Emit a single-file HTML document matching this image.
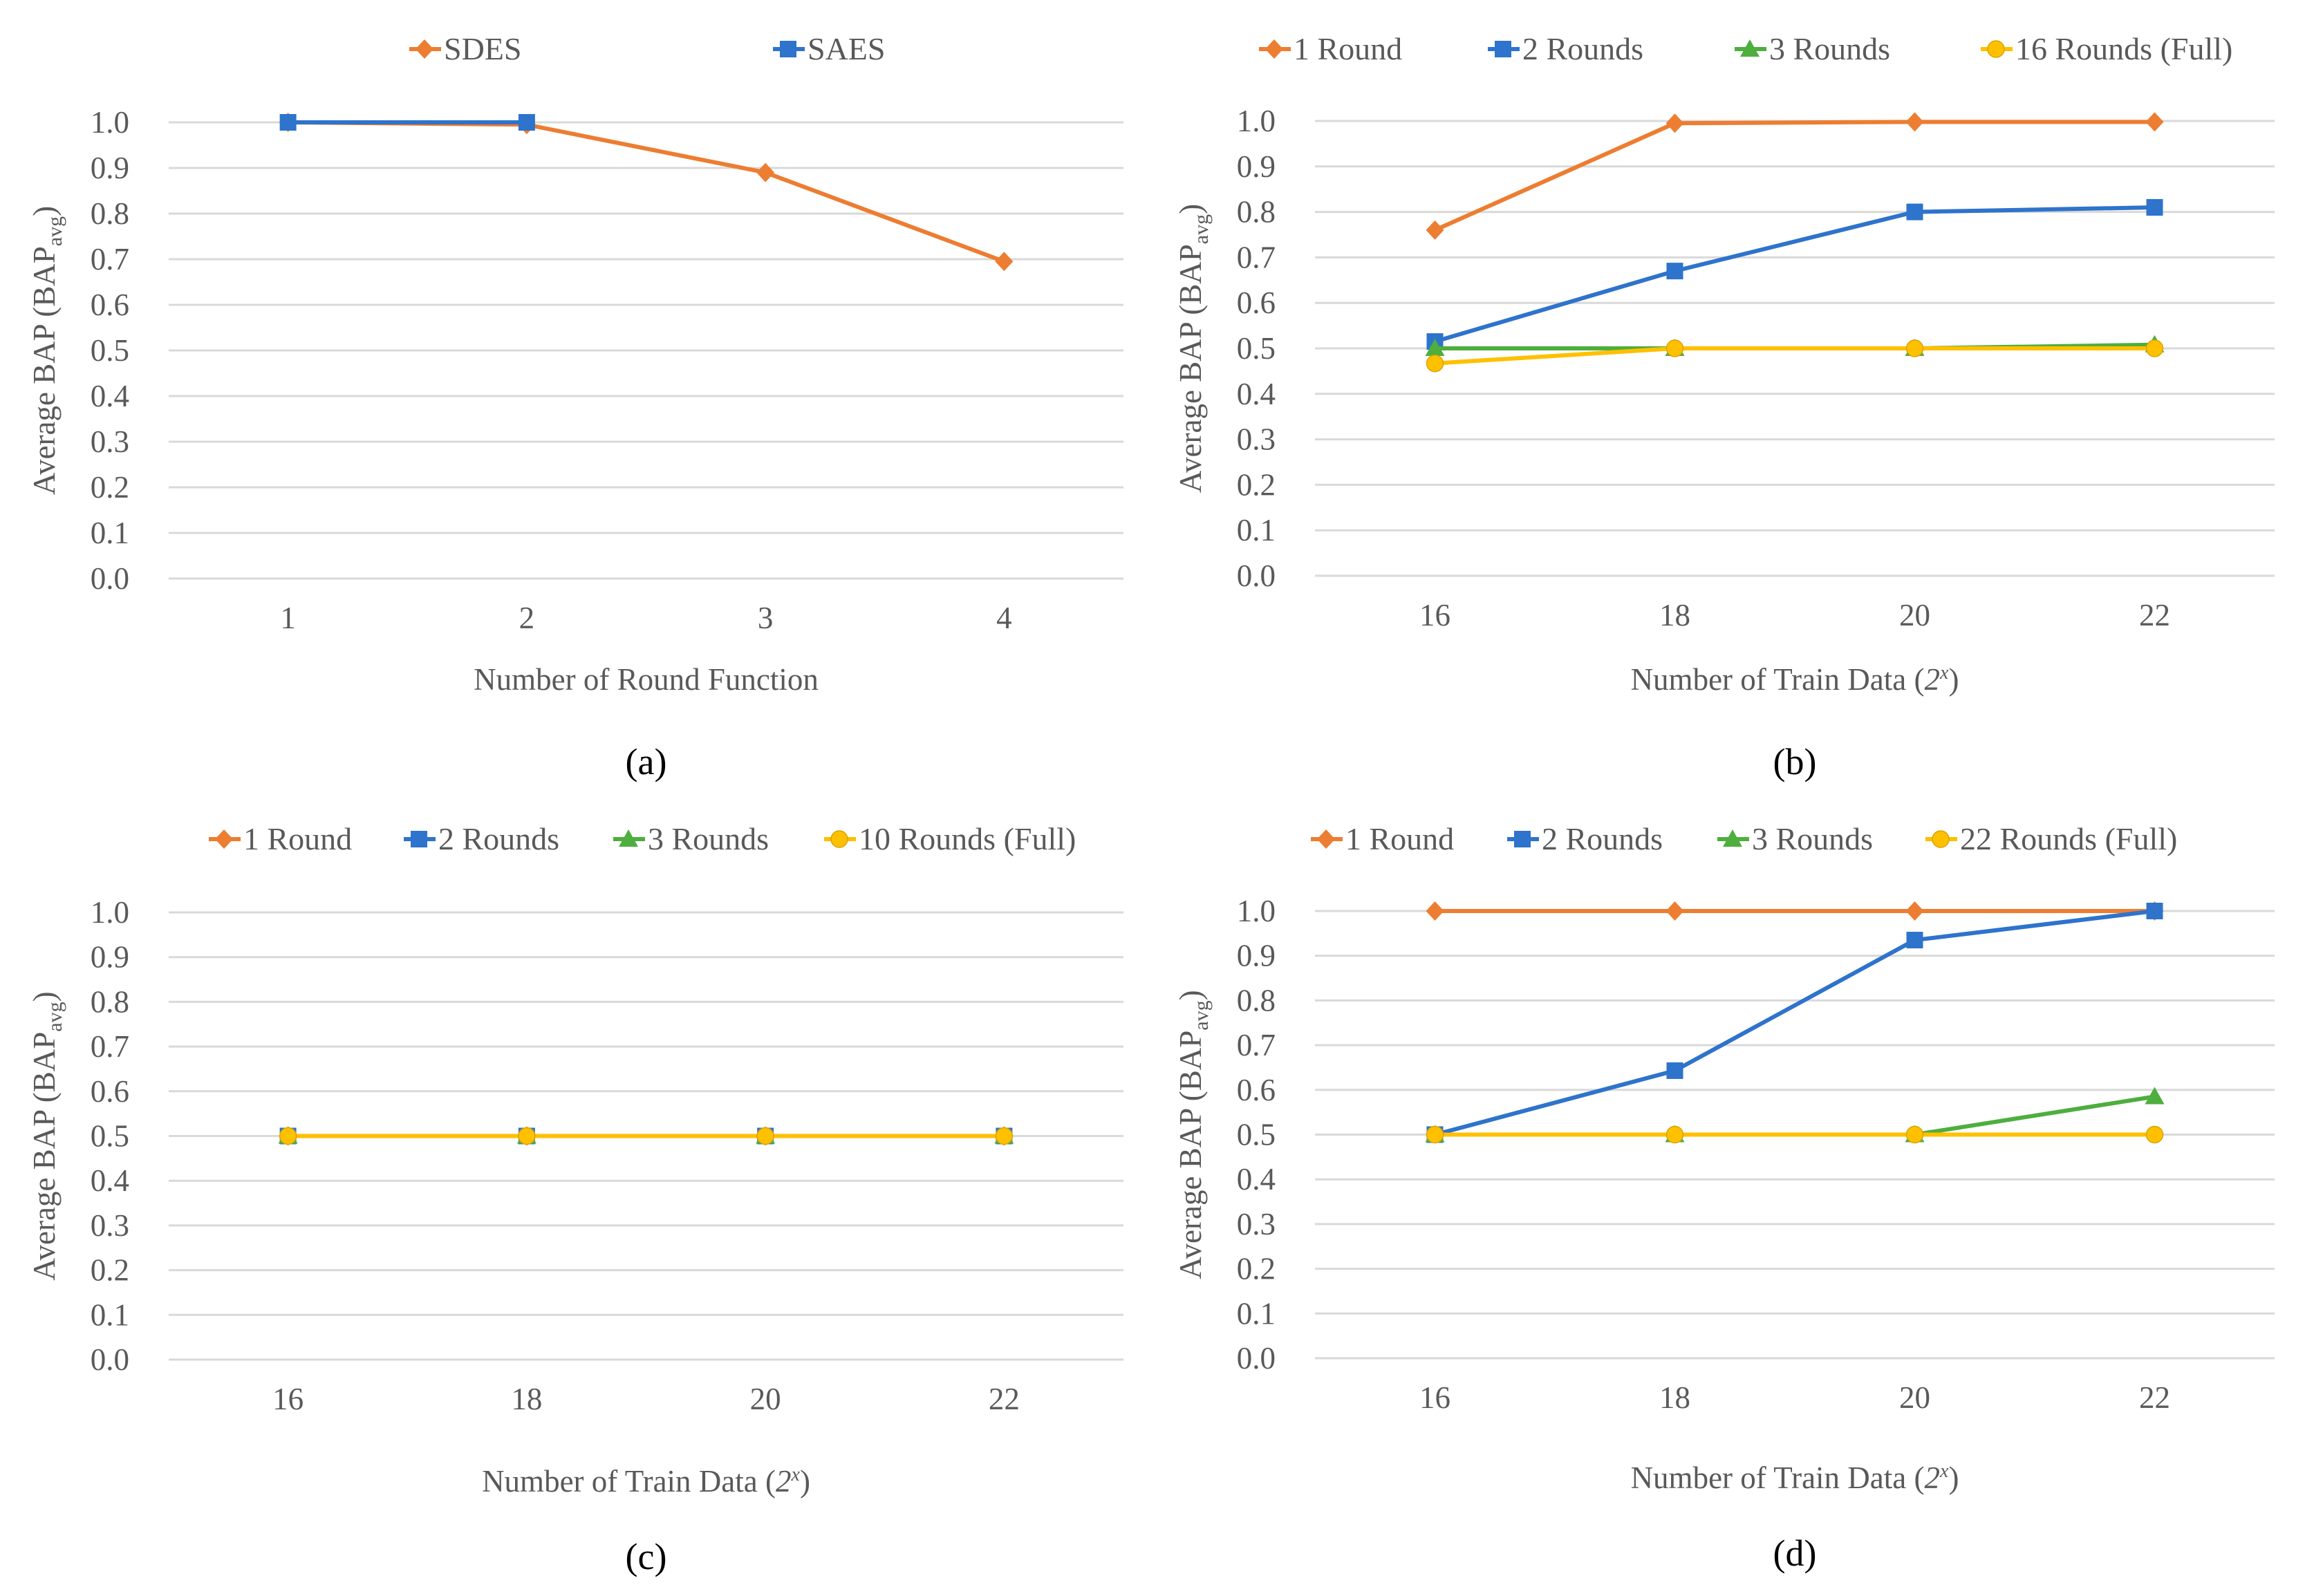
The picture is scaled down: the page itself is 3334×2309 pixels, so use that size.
<!DOCTYPE html>
<html><head><meta charset="utf-8"><style>
html,body{margin:0;padding:0;background:#fff;}
svg{display:block;font-family:"Liberation Serif",serif;}
</style></head><body>
<svg id="fig" width="3334" height="2309" viewBox="0 0 3334 2309" xmlns="http://www.w3.org/2000/svg"></svg>
<script>
const yTicks = [0,0.1,0.2,0.3,0.4,0.5,0.6,0.7,0.8,0.9,1.0];
const catsA = ["1","2","3","4"];
const catsT = ["16","18","20","22"];
const aSDES = [1.0,0.995,0.89,0.695];
const aSAES = [1.0,1.0,null,null];
const b1 = [0.76,0.995,0.998,0.998];
const b2 = [0.515,0.67,0.80,0.81];
const b3 = [0.50,0.50,0.50,0.508];
const b16 = [0.467,0.50,0.50,0.50];
const c1 = [0.5,0.5,0.5,0.5];
const c2 = [0.5,0.5,0.5,0.5];
const c3 = [0.5,0.5,0.5,0.5];
const c10 = [0.5,0.5,0.5,0.5];
const d1 = [1.0,1.0,1.0,1.0];
const d2 = [0.50,0.643,0.935,1.0];
const d3 = [0.50,0.50,0.50,0.585];
const d22 = [0.50,0.50,0.50,0.50];

const ORANGE="#ED7D31", BLUE="#2E73CC", GREEN="#4EAE3E", YELLOW="#FFC000";
const NS="http://www.w3.org/2000/svg";
const svg=document.getElementById('fig');
function mk(tag,attrs,parent){const e=document.createElementNS(NS,tag);for(const k in attrs)e.setAttribute(k,attrs[k]);(parent||svg).appendChild(e);return e;}

function marker(g,shape,cx,cy,color){
  let m;
  if(shape==='diamond'){m=mk('polygon',{points:`${cx},${cy-14} ${cx+13},${cy} ${cx},${cy+14} ${cx-13},${cy}`,fill:color},g);}
  else if(shape==='square'){m=mk('rect',{x:cx-12,y:cy-12,width:24,height:24,fill:color},g);}
  else if(shape==='triangle'){m=mk('polygon',{points:`${cx},${cy-14} ${cx+14},${cy+11} ${cx-14},${cy+11}`,fill:color},g);}
  else {m=mk('circle',{cx:cx,cy:cy,r:12,fill:color,stroke:'#D9A400','stroke-width':1.5},g);}
  return m;
}

function panel(p){
  const g=mk('g',{});
  
  
  const band=(p.x1-p.x0)/p.cats.length;
  const X=i=>p.x0+band*(i+0.5);
  const Y=v=>p.yb+(p.yt-p.yb)*v;
  yTicks.forEach(t=>{
    const l=mk('line',{x1:p.x0,x2:p.x1,y1:Y(t),y2:Y(t),stroke:'#D9D9D9','stroke-width':3},g);
    
    
    const tx=mk('text',{x:p.x0-57,y:Y(t)+15,'text-anchor':'end','font-size':45,fill:'#595959'},g);
    tx.textContent=t.toFixed(1);
    
    
  });
  p.cats.forEach((c,i)=>{
    const tx=mk('text',{x:X(i),y:p.yb+72,'text-anchor':'middle','font-size':45,fill:'#595959'},g);
    tx.textContent=c;
    
    
  });
  const yt=mk('text',{transform:`translate(${p.x0-165},${(p.yt+p.yb)/2}) rotate(-90)`,'text-anchor':'middle','font-size':45,fill:'#595959'},g);
  yt.innerHTML='Average BAP (BAP<tspan font-size="30" dy="10">avg</tspan><tspan dy="-10">)</tspan>';
  
  
  const xt=mk('text',{x:(p.x0+p.x1)/2,y:p.xty,'text-anchor':'middle','font-size':45,fill:'#595959'},g);
  xt.innerHTML=p.xtitle;
  
  
  const lab=mk('text',{x:(p.x0+p.x1)/2,y:p.laby,'text-anchor':'middle','font-size':54,fill:'#000'},g);
  lab.textContent='('+p.id+')';
  
  
  p.series.forEach(s=>{
    const sg=mk('g',{},g);
    
    
    const pts=[];
    s.data.forEach((v,i)=>{if(v!==null)pts.push([X(i),Y(v)]);});
    const pl=mk('polyline',{points:pts.map(q=>q.join(',')).join(' '),fill:'none',stroke:s.color,'stroke-width':6,'stroke-linejoin':'round'},sg);
    
    
    pts.forEach(q=>{
      const m=marker(sg,s.shape,q[0],q[1],s.color);
      
      
    });
    const lg=mk('g',{},g);
    
    
    mk('line',{x1:s.lx-22,x2:s.lx+24,y1:p.ly,y2:p.ly,stroke:s.color,'stroke-width':6},lg);
    marker(lg,s.shape,s.lx,p.ly,s.color);
    const lt=mk('text',{x:s.lx+28,y:p.ly+15,'font-size':46,fill:'#595959'},lg);
    lt.textContent=s.name;
  });
}
const xtT='Number of Train Data (<tspan font-style="italic">2<tspan font-size="28" dy="-16">x</tspan></tspan><tspan dy="16">)</tspan>';
panel({id:'a',x0:244,x1:1625,yt:177,yb:837,cats:catsA,ly:71,xty:998,laby:1120,xtitle:'Number of Round Function',
 series:[{name:'SDES',data:aSDES,color:ORANGE,shape:'diamond',lx:614},{name:'SAES',data:aSAES,color:BLUE,shape:'square',lx:1140}]});
panel({id:'b',x0:1902,x1:3290,yt:175,yb:833,cats:catsT,ly:71,xty:998,laby:1120,xtitle:xtT,
 series:[{name:'1 Round',data:b1,color:ORANGE,shape:'diamond',lx:1843},{name:'2 Rounds',data:b2,color:BLUE,shape:'square',lx:2174},
 {name:'3 Rounds',data:b3,color:GREEN,shape:'triangle',lx:2531},{name:'16 Rounds (Full)',data:b16,color:YELLOW,shape:'circle',lx:2887}]});
panel({id:'c',x0:244,x1:1625,yt:1320,yb:1967,cats:catsT,ly:1214,xty:2158,laby:2270,xtitle:xtT,
 series:[{name:'1 Round',data:c1,color:ORANGE,shape:'diamond',lx:324},{name:'2 Rounds',data:c2,color:BLUE,shape:'square',lx:606},
 {name:'3 Rounds',data:c3,color:GREEN,shape:'triangle',lx:909},{name:'10 Rounds (Full)',data:c10,color:YELLOW,shape:'circle',lx:1214}]});
panel({id:'d',x0:1902,x1:3290,yt:1318,yb:1965,cats:catsT,ly:1214,xty:2153,laby:2265,xtitle:xtT,
 series:[{name:'1 Round',data:d1,color:ORANGE,shape:'diamond',lx:1918},{name:'2 Rounds',data:d2,color:BLUE,shape:'square',lx:2202},
 {name:'3 Rounds',data:d3,color:GREEN,shape:'triangle',lx:2506},{name:'22 Rounds (Full)',data:d22,color:YELLOW,shape:'circle',lx:2807}]});
</script>
</body></html>
